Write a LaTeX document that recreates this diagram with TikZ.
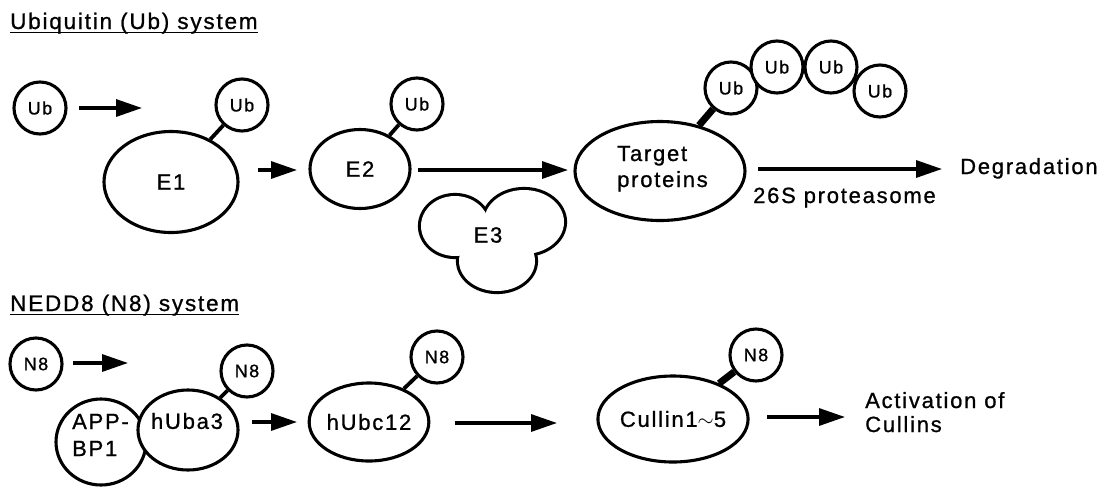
\documentclass[tikz,border=0pt]{standalone}
\usepackage{fontspec}
\setmainfont{Liberation Sans}[LetterSpace=8,FakeBold=0.9]
\usetikzlibrary{arrows.meta,shapes.geometric}
\tikzset{
 ol/.style={line width=3.1pt},
 bub/.style={circle,draw,ol,fill=white,minimum size=52pt,inner sep=0pt,font=\fontsize{18}{20}\selectfont},
 ell/.style={ellipse,draw,ol,fill=white,inner sep=0pt,font=\fontsize{22}{26}\selectfont},
 txt/.style={inner sep=0pt,font=\fontsize{22}{26}\selectfont},
 ttl/.style={inner sep=0pt,font=\fontsize{22.5}{26}\selectfont},
 arr/.style={line width=3.2pt,-{Triangle[length=26pt,width=17pt]}},
 lnk/.style={line width=3.8pt},
 tlnk/.style={line width=7pt},
 uline/.style={line width=1.8pt},
}
\begin{document}
\begin{tikzpicture}[x=1pt,y=-1pt]
\path[fill=white] (0,0) rectangle (1106,488);
% titles
\node[ttl,anchor=base west] (t1) at (10,29) {Ubiquitin (Ub) system};
\draw[uline] ([yshift=-3.5pt]t1.base west) -- ([yshift=-3.5pt]t1.base east);
\node[ttl,anchor=base west] (t2) at (10,311) {NEDD8 (N8) system};
\draw[uline] ([yshift=-3.5pt]t2.base west) -- ([yshift=-3.5pt]t2.base east);

% ---------- Ubiquitin system ----------
\node[bub] (ub0) at (40,108) {Ub};
\node[ell,minimum width=134pt,minimum height=101pt] (E1) at (171,182) {E1};
\node[bub] (ub1) at (242,105) {Ub};
\draw[lnk] (E1) -- (ub1);
\node[ell,minimum width=100pt,minimum height=79pt] (E2) at (360,169) {E2};
\node[bub] (ub2) at (417,104) {Ub};
\draw[lnk] (E2) -- (ub2);
% E3 (three lobes)
\draw[line width=6.2pt] (455,226) ellipse [x radius=34, y radius=30];
\draw[line width=6.2pt] (524,222) ellipse [x radius=40, y radius=32];
\draw[line width=6.2pt] (497,261) ellipse [x radius=38, y radius=30];
\fill[white] (455,226) ellipse [x radius=34, y radius=30];
\fill[white] (524,222) ellipse [x radius=40, y radius=32];
\fill[white] (497,261) ellipse [x radius=38, y radius=30];
\node[txt] (E3) at (488,235) {E3};
% target
\node[ell,minimum width=170pt,minimum height=99pt] (T) at (660,171) {};
\node[txt,anchor=base west] (T1) at (617,161) {Target};
\node[txt,anchor=base west] (T2) at (617,187) {proteins};
\node[bub] (c1) at (731,88) {Ub};
\node[bub] (c2) at (777,67) {Ub};
\node[bub] (c3) at (831,67) {Ub};
\node[bub] (c4) at (880,91) {Ub};
\draw[tlnk] (T) -- (c1);
\node[txt,anchor=base west] (deg) at (960,174) {Degradation};
\node[txt,anchor=base west] (prot) at (753,203) {26S proteasome};
% arrows
\coordinate (a1s) at (79,108);  \coordinate (a1e) at (142,108);
\coordinate (a2s) at (258,170); \coordinate (a2e) at (297,170);
\coordinate (a3s) at (418,170); \coordinate (a3e) at (568,170);
\coordinate (a4s) at (758,169); \coordinate (a4e) at (942,169);
\draw[arr] (a1s) -- (a1e);
\draw[arr] (a2s) -- (a2e);
\draw[arr] (a3s) -- (a3e);
\draw[arr] (a4s) -- (a4e);

% ---------- NEDD8 system ----------
\node[bub] (n0) at (36,364) {N8};
\node[ell,minimum width=90pt,minimum height=86pt] (APP) at (101,442) {};
\node[ell,minimum width=100pt,minimum height=80pt] (U3) at (188,430) {};
\node[txt] (U3t) at (187,421) {hUba3};
\node[txt,anchor=base west] (APP1) at (72,429) {APP-};
\node[txt,anchor=base west] (APP2) at (72,456) {BP1};
\node[bub] (n1) at (247,371) {N8};
\draw[lnk] (U3) -- (n1);
\node[ell,minimum width=118pt,minimum height=78pt] (U12) at (369,422) {hUbc12};
\node[bub] (n2) at (437,357) {N8};
\draw[lnk] (U12) -- (n2);
\node[ell,minimum width=146pt,minimum height=86pt] (Cul) at (673,419) {Cullin1$\sim$5};
\node[bub] (n3) at (756,355) {N8};
\draw[tlnk] (Cul) -- (n3);
\node[txt,anchor=base west] (act1) at (865,408) {Activation of};
\node[txt,anchor=base west] (act2) at (865,432) {Cullins};
\coordinate (b1s) at (73,363);  \coordinate (b1e) at (128,363);
\coordinate (b2s) at (252,422); \coordinate (b2e) at (297,422);
\coordinate (b3s) at (455,423); \coordinate (b3e) at (557,423);
\coordinate (b4s) at (767,417); \coordinate (b4e) at (845,417);
\draw[arr] (b1s) -- (b1e);
\draw[arr] (b2s) -- (b2e);
\draw[arr] (b3s) -- (b3e);
\draw[arr] (b4s) -- (b4e);
\end{tikzpicture}
\end{document}
